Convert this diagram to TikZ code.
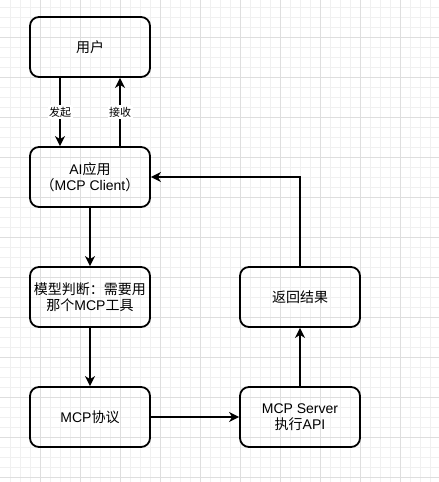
\documentclass[tikz,border=0pt]{standalone}
\usepackage{fontspec}
\setmainfont{Liberation Sans}
\newfontfamily\cjk{Noto Sans CJK SC}
\usetikzlibrary{arrows.meta}
\begin{document}
\begin{tikzpicture}[x=1pt,y=-1pt,
  box/.style={draw, line width=1.8pt, rounded corners=9pt, minimum width=120pt, minimum height=60pt, align=center, font=\fontsize{14}{16.5}\selectfont, inner sep=2pt},
  conn/.style={line width=1.8pt, -{Stealth[length=10pt,width=10pt,inset=3pt]}},
  lbl/.style={fill=white, font=\fontsize{11}{13}\selectfont\cjk, inner sep=1.5pt},
  minorgrid/.style={draw=black!6, line width=0.8pt},
  majorgrid/.style={draw=black!13, line width=0.8pt}]
\useasboundingbox (0,0) rectangle (439,482);
\fill[white] (0,0) rectangle (439,482);
\foreach \x in {10,20,...,430} \draw[minorgrid] (\x,0) -- (\x,482);
\foreach \y in {7,17,...,477} \draw[minorgrid] (0,\y) -- (439,\y);
\foreach \x in {40,80,...,400} \draw[majorgrid] (\x,0) -- (\x,482);
\foreach \y in {37,77,...,477} \draw[majorgrid] (0,\y) -- (439,\y);

\node[box] (user) at (90,47) {\cjk 用户};
\node[box] (ai) at (90,177) {AI\cjk 应用\\\cjk（\normalfont MCP Client\cjk）};
\node[box] (model) at (90,297) {\cjk 模型判断：需要用\\\cjk 那个\normalfont MCP\cjk 工具};
\node[box] (proto) at (90,417) {MCP\cjk 协议};
\node[box] (ret) at (300,297) {\cjk 返回结果};
\node[box] (server) at (300,417) {MCP Server\\\cjk 执行\normalfont API};

\draw[conn] ([xshift=-30pt]user.south) -- ([xshift=-30pt]ai.north) node[midway,lbl]{发起};
\draw[conn] ([xshift=30pt]ai.north) -- ([xshift=30pt]user.south) node[midway,lbl]{接收};
\draw[conn] (ai.south) -- (model.north);
\draw[conn] (model.south) -- (proto.north);
\draw[conn] (proto.east) -- (server.west);
\draw[conn] (server.north) -- (ret.south);
\draw[conn] (ret.north) |- (ai.east);
\end{tikzpicture}
\end{document}
